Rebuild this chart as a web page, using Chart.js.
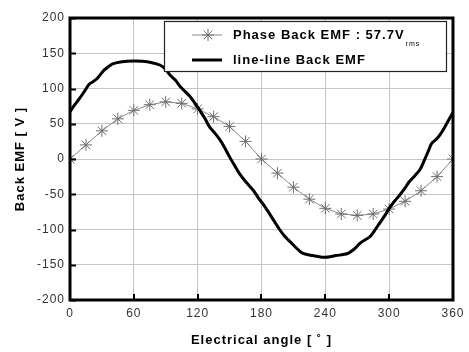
<!DOCTYPE html>
<html>
<head>
<meta charset="utf-8">
<script src="https://cdn.jsdelivr.net/npm/chart.js@4/dist/chart.umd.min.js"></script>
<style>
  html, body { margin: 0; padding: 0; background: #fff; }
  #wrap { width: 469px; height: 352px; }
</style>
</head>
<body>
<div id="wrap"><canvas id="emf-chart" width="469" height="352"></canvas></div>
<script>
// phase back EMF, sampled every 15 deg
let phaseAngle = [0, 15, 30, 45, 60, 75, 90, 105, 120, 135, 150, 165, 180,
  195, 210, 225, 240, 255, 270, 285, 300, 315, 330, 345, 360];
let phaseEmf = [0, 20, 40, 57, 69, 77, 81, 79, 71, 60, 46, 25, 0,
  -20, -40, -57, -70, -78, -80, -78, -71, -60, -45, -25, 0];

// line-line back EMF
let llAngle = [0, 4, 9, 14, 18, 22, 26, 32, 37, 40, 49, 60, 68, 76, 85, 90, 94, 99, 104, 112,
  117, 122, 127, 131, 136, 141, 145, 150, 155, 159, 165, 172, 177, 181, 186, 191, 197, 201,
  208, 214, 219, 228, 239, 250, 261, 267, 273, 282, 287, 291, 296, 300, 305, 310, 315, 319,
  324, 329, 333, 337, 340, 345, 349, 354, 360];
let llEmf = [67, 76, 86, 97, 106, 110, 115, 126, 132, 135, 138, 139, 138.5, 137, 133, 127, 119, 112, 102, 90,
  80, 69, 57, 46, 37, 27, 17, 3, -10, -20, -32, -44, -55, -63, -74, -86, -100, -108,
  -119, -128, -134, -137, -139.5, -137, -134, -128, -119, -110, -100, -91, -80, -70, -60, -51, -41, -32,
  -24, -15, -2, 12, 22, 29, 37, 50, 66];

let xTicks = [0, 60, 120, 180, 240, 300, 360];
let yTicks = [-200, -150, -100, -50, 0, 50, 100, 150, 200];

let seriesNames = ['Phase Back EMF : 57.7V', 'line-line Back EMF'];
let rmsSub = 'rms';
let xTitle = 'Electrical angle [ \u02DA ]';
let yTitle = 'Back EMF [ V ]';

const FONT = "'Liberation Sans', Arial, sans-serif";

let toPoints = (xs, ys) => xs.map((x, i) => ({ x: x, y: ys[i] }));

// the original's text is a bit spread out
let spacingPlugin = {
  id: 'spacing',
  beforeDraw(chart) { chart.ctx.letterSpacing = '1px'; },
};

// frame, inner tick marks and the legend box
let framePlugin = {
  id: 'frame',
  afterDraw(chart) {
    let ctx = chart.ctx;
    let a = chart.chartArea;
    let xs = chart.scales.x, ys = chart.scales.y;
    ctx.save();
    ctx.strokeStyle = '#000';
    ctx.lineWidth = 2;
    yTicks.forEach(v => {
      let py = Math.round(ys.getPixelForValue(v)) + 0.5;
      ctx.beginPath(); ctx.moveTo(a.left, py); ctx.lineTo(a.left + 6, py); ctx.stroke();
    });
    xTicks.forEach(v => {
      let px = Math.round(xs.getPixelForValue(v));
      ctx.beginPath(); ctx.moveTo(px, a.bottom); ctx.lineTo(px, a.bottom - 6); ctx.stroke();
    });
    ctx.lineWidth = 3;
    ctx.strokeRect(a.left, a.top, a.right - a.left, a.bottom - a.top);

    // legend
    let bx = 164.5, by = 21.5, bw = 282, bh = 50;
    ctx.fillStyle = '#fff';
    ctx.fillRect(bx, by, bw, bh);
    ctx.lineWidth = 1.2;
    ctx.strokeStyle = '#222';
    ctx.strokeRect(bx, by, bw, bh);

    let ds0 = chart.data.datasets[0], ds1 = chart.data.datasets[1];
    let row1 = 35, row2 = 60;
    ctx.strokeStyle = ds0.borderColor;
    ctx.lineWidth = ds0.borderWidth;
    ctx.beginPath(); ctx.moveTo(192, row1); ctx.lineTo(222, row1); ctx.stroke();
    ctx.strokeStyle = ds0.pointBorderColor;
    ctx.lineWidth = 1;
    let r = 6;
    ctx.beginPath();
    for (let k = 0; k < 4; k++) {
      let ang = k * Math.PI / 4;
      ctx.moveTo(208 - r * Math.cos(ang), row1 - r * Math.sin(ang));
      ctx.lineTo(208 + r * Math.cos(ang), row1 + r * Math.sin(ang));
    }
    ctx.stroke();

    ctx.strokeStyle = ds1.borderColor;
    ctx.lineWidth = ds1.borderWidth;
    ctx.beginPath(); ctx.moveTo(192, row2); ctx.lineTo(222, row2); ctx.stroke();

    ctx.fillStyle = '#000';
    ctx.textBaseline = 'middle';
    ctx.textAlign = 'left';
    ctx.letterSpacing = '1px';
    ctx.font = 'bold 13px ' + FONT;
    ctx.fillText(seriesNames[0], 233, row1);
    let w = ctx.measureText(seriesNames[0]).width;
    ctx.font = '7px ' + FONT;
    ctx.fillText(rmsSub, 233 + w + 1, row1 + 9);
    ctx.font = 'bold 13px ' + FONT;
    ctx.fillText(seriesNames[1], 233, row2);
    ctx.restore();
  }
};

new Chart(document.getElementById('emf-chart'), {
  type: 'line',
  data: {
    datasets: [
      {
        label: seriesNames[0],
        data: toPoints(phaseAngle, phaseEmf),
        borderColor: '#8a8a8a',
        borderWidth: 1,
        pointStyle: 'star',
        pointRadius: 6,
        pointBorderColor: '#6e6e6e',
        pointBorderWidth: 1,
        tension: 0,
        order: 2,
      },
      {
        label: seriesNames[1],
        data: toPoints(llAngle, llEmf),
        borderColor: '#000',
        borderWidth: 3,
        pointRadius: 0,
        tension: 0.3,
        order: 1,
      },
    ],
  },
  options: {
    responsive: false,
    animation: false,
    layout: { padding: { left: 0, top: 18, right: 15, bottom: 0 } },
    plugins: {
      legend: { display: false },
      tooltip: { enabled: false },
    },
    scales: {
      x: {
        type: 'linear',
        min: 0,
        max: 360,
        afterBuildTicks: s => { s.ticks = xTicks.map(v => ({ value: v })); },
        afterFit: s => { s.height = 52; },
        grid: { color: '#c4c4c4', lineWidth: 1, drawTicks: false },
        border: { display: false },
        ticks: { color: '#333', font: { family: FONT, size: 12 }, padding: 6, maxRotation: 0 },
        title: { display: true, text: xTitle, color: '#000', font: { family: FONT, size: 13, weight: 'bold' }, padding: { top: 4, bottom: 4 } },
      },
      y: {
        min: -200,
        max: 200,
        afterBuildTicks: s => { s.ticks = yTicks.map(v => ({ value: v })); },
        afterFit: s => { s.width = 70; },
        grid: { color: '#c4c4c4', lineWidth: 1, drawTicks: false },
        border: { display: false },
        ticks: { color: '#333', font: { family: FONT, size: 12 }, padding: 5 },
        title: { display: true, text: yTitle, color: '#000', font: { family: FONT, size: 13, weight: 'bold' }, padding: { top: 13, bottom: 4 } },
      },
    },
  },
  plugins: [spacingPlugin, framePlugin],
});
</script>
</body>
</html>
